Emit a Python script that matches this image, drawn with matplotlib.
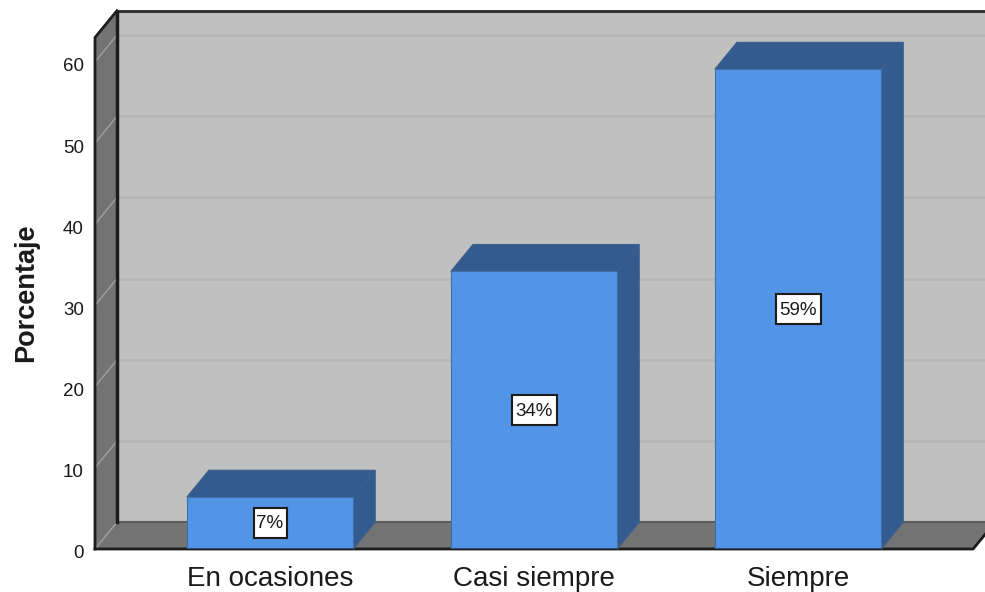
import matplotlib
matplotlib.use('Agg')
import matplotlib.pyplot as plt
from matplotlib.patches import Polygon, Rectangle
from matplotlib.transforms import ScaledTranslation

plt.rcParams['font.family'] = ['Liberation Sans', 'DejaVu Sans']

# Data
categories = ['En ocasiones', 'Casi siempre', 'Siempre']
percent = [6.4, 34.2, 59.1]
bar_labels = ['7%', '34%', '59%']
y_ticks = [0, 10, 20, 30, 40, 50, 60]

# 3D look: depth offset in data units
dx = 0.0833
dy = 3.3
bar_w = 0.63
x_left = -0.663
x_right = 2.663
y_top = 63.0

fig = plt.figure(figsize=(9.85, 5.92), dpi=100)
ax = fig.add_axes([95 / 985, 1 - 549 / 592, 890 / 985, 538 / 592])
ax.set_xlim(x_left, 2.708)
ax.set_ylim(0, 66.26)
for s in ax.spines.values():
    s.set_visible(False)


def poly(pts, color, z, edge='none', lw=0):
    ax.add_patch(Polygon(pts, closed=True, facecolor=color, edgecolor=edge, linewidth=lw,
                         zorder=z, clip_on=False))


# back wall, left wall, floor
poly([(x_left + dx, dy), (x_right + 2 * dx, dy), (x_right + 2 * dx, y_top + dy), (x_left + dx, y_top + dy)], '#c0c0c0', 1)
poly([(x_left, 0), (x_left + dx, dy), (x_left + dx, y_top + dy), (x_left, y_top)], '#737373', 1)
poly([(x_left, 0), (x_right, 0), (x_right + dx, dy), (x_left + dx, dy)], '#737373', 1)

# gridlines
for t in y_ticks:
    if t > 0:
        ax.plot([x_left + dx, x_right + 2 * dx], [t + dy, t + dy], color='#b6b6b6', lw=2, zorder=2, clip_on=False)
    ax.plot([x_left, x_left + dx], [t, t + dy], color='#a0a0a0', lw=1, zorder=2)

# wall edges
ax.plot([x_left + dx, x_right + 2 * dx], [y_top + dy, y_top + dy], color='#2a2a2a', lw=2, zorder=3, clip_on=False)
ax.plot([x_left + dx, x_right + 2 * dx], [dy, dy], color='#5c5c5c', lw=1.5, zorder=3, clip_on=False)
ax.plot([x_left + dx, x_left + dx], [dy, y_top + dy], color='#1c1c1c', lw=2.5, zorder=3)
ax.plot([x_left, x_left, x_left + dx], [0, y_top, y_top + dy], color='#1c1c1c', lw=2, zorder=3, clip_on=False)
ax.plot([x_left, x_right, x_right + dx], [0, 0, dy], color='#1c1c1c', lw=2, zorder=3, clip_on=False)

# bars
box_w = [0.125, 0.17, 0.17]
box_h = 3.7
for i, v in enumerate(percent):
    x0 = i - bar_w / 2
    x1 = i + bar_w / 2
    poly([(x0, v), (x1, v), (x1 + dx, v + dy), (x0 + dx, v + dy)], '#335b8f', 4, edge='#3d5f8c', lw=0.8)
    poly([(x1, 0), (x1 + dx, dy), (x1 + dx, v + dy), (x1, v)], '#335b8f', 4, edge='#3d5f8c', lw=0.8)
    ax.bar(i, v, bar_w, color='#5294e6', edgecolor='#3f6fa8', linewidth=0.8, zorder=5)
    ax.plot([x0, x1], [0, 0], color='#26456e', lw=2, zorder=6, solid_capstyle='butt')
    ax.add_patch(Rectangle((i - box_w[i] / 2, v / 2 - box_h / 2), box_w[i], box_h, facecolor='white',
                           edgecolor='#1c1c1c', linewidth=1.5, zorder=7))
    ax.text(i, v / 2 - 0.12, bar_labels[i], ha='center', va='center', fontsize=13.5, color='#1a1a1a', zorder=8)

ax.set_yticks(y_ticks)
ax.set_xticks(range(len(categories)))
ax.set_xticklabels(categories, fontsize=20, color='#1a1a1a')
ax.tick_params(axis='y', length=0, pad=8, labelsize=13.5, labelcolor='#1a1a1a')
ax.tick_params(axis='x', length=0, pad=12)
shift = ScaledTranslation(0, -3 / 100, fig.dpi_scale_trans)
for lab in ax.get_yticklabels():
    lab.set_transform(lab.get_transform() + shift)
fig.text(26 / 985, 1 - 293 / 592, 'Porcentaje', rotation=90, ha='center', va='center',
         fontsize=19.5, fontweight='bold', color='#1a1a1a')

fig.savefig('out.png', dpi=100)
